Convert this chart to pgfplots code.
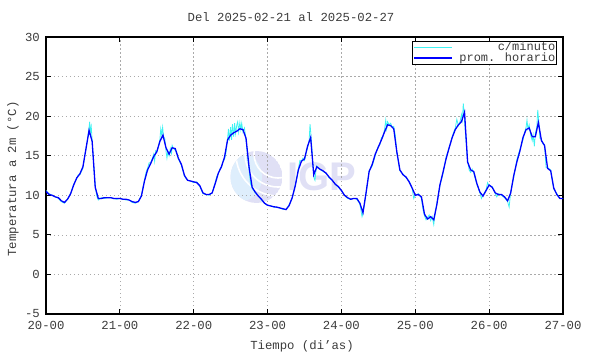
\documentclass[border=0pt]{standalone}
\usepackage{pgfplots}
\pgfplotsset{compat=1.18}
\usepackage{fontspec}
\setmainfont{Liberation Mono}
\setsansfont{Liberation Sans}
\definecolor{cmin}{rgb}{0.25,0.95,0.95}
\definecolor{phor}{rgb}{0,0,1}
\definecolor{lav}{RGB}{224,224,245}
\definecolor{lblue}{RGB}{222,238,252}
\definecolor{gridg}{RGB}{170,170,170}
\definecolor{txt}{RGB}{60,60,60}
\begin{document}
\begin{tikzpicture}
\path[use as bounding box] (-46pt,-40pt) rectangle (544pt,314pt);
% watermark
\begin{scope}
\clip (210.5pt,137pt) circle (26pt);
\fill[lav] (210.5pt,137pt) circle (26pt);
\fill[lblue] (196pt,137pt) ellipse (20pt and 24pt);
\draw[white, line width=1.6pt] (232pt,160pt) circle (24pt);
\draw[white, line width=1.6pt] (232pt,160pt) circle (33pt);
\draw[white, line width=1.6pt] (232pt,160pt) circle (42pt);
\end{scope}
\node[text=lav, font=\sffamily\bfseries\fontsize{40}{40}\selectfont] at (276pt,137pt) {IGP};
\begin{axis}[
  at={(0pt,0pt)}, anchor=south west,
  scale only axis, width=517pt, height=277pt,
  xmin=0, xmax=168, ymin=-5, ymax=30,
  xtick={0,24,48,72,96,120,144,168},
  xticklabels={20-00,21-00,22-00,23-00,24-00,25-00,26-00,27-00},
  ytick={-5,0,5,10,15,20,25,30},
  tick pos=both, tick align=inside,
  major tick length=5pt,
  tick style={black, line width=0.8pt},
  axis line style={black, line width=1.1pt},
  grid=major,
  major grid style={gridg, dash pattern=on 1.5pt off 2.5pt, line width=0.6pt},
  /pgf/number format/assume math mode=true,
  ticklabel style={font=\fontsize{12.3}{13}\selectfont, text=txt, inner sep=1pt},
  yticklabel style={xshift=-5pt},
  xticklabel style={yshift=-6pt},
  legend style={at={(1,1)}, anchor=north east, xshift=-6pt, yshift=-4pt,
    draw=black, line width=0.6pt, fill=white,
    font=\fontsize{12}{11}\selectfont, text=txt,
    inner xsep=1pt, inner ysep=0.5pt, row sep=0pt, column sep=6pt,
    nodes={inner sep=0.3pt}},
  legend cell align=right,
  legend image code/.code={\draw[#1] (0pt,0pt) -- (38pt,0pt);},
]
\addplot[cmin, line width=0.8pt] coordinates {
(0,10.6)(1,10.2)(2,10.0)(3,9.8)(4,9.6)(5,9.2)(6,9.0)(7,9.5)(8,10.2)(9,11.4)(10,12.1)(10.5,12.6)(11,12.6)(11.5,13.0)(12,13.4)(12.5,14.8)(13,15.9)(13.3,16.6)(13.6,17.4)(14,18.6)(14.2,19.3)(14.4,18.0)(14.7,18.7)(15,16.9)(15.5,13.8)(16,11.2)(16.5,9.9)(17,9.4)(18,9.7)(19,9.6)(20,9.7)(21,9.7)(22,9.6)(23,9.5)(24,9.6)(25,9.5)(26,9.4)(27,9.4)(28,9.1)(29,9.0)(30,9.2)(31,10.0)(32,11.9)(32.5,12.9)(33,13.4)(33.5,14.1)(34,14.1)(34.5,14.6)(35,15.2)(35.3,14.3)(35.6,15.6)(36,15.4)(36.5,16.1)(37,17.0)(37.3,18.4)(37.6,17.6)(37.9,18.6)(38.2,17.4)(38.6,17.2)(39,15.6)(39.3,14.7)(39.6,15.5)(40,15.0)(40.4,15.9)(40.8,15.3)(41,16.3)(41.4,15.9)(42,15.7)(42.5,15.3)(43,14.6)(44,13.8)(45,12.4)(46,11.9)(47,11.8)(48,11.6)(49,11.7)(50,11.1)(51,10.2)(52,10.1)(53,10.0)(54,10.3)(55,11.6)(55.5,12.4)(56,12.7)(56.5,13.3)(57,13.5)(57.5,14.3)(58,14.5)(58.5,15.4)(59,17.2)(59.3,18.4)(59.6,16.9)(60,18.6)(60.3,17.0)(60.6,19.0)(61,17.4)(61.3,19.1)(61.6,17.8)(62,18.9)(62.3,19.3)(62.6,18.0)(63,19.2)(63.3,18.3)(63.6,19.1)(64,18.0)(64.5,18.5)(65,17.0)(65.5,15.0)(66,13.2)(66.5,11.4)(67,10.9)(68,10.3)(69,9.9)(70,9.4)(71,9.0)(72,8.7)(73,8.7)(74,8.5)(75,8.5)(76,8.4)(77,8.2)(78,8.2)(79,8.8)(80,9.6)(81,11.3)(81.5,12.2)(82,13.3)(82.5,14.4)(83,14.3)(83.5,14.7)(84,14.4)(84.5,15.3)(85,16.0)(85.5,16.9)(85.8,19.0)(86.1,17.6)(86.4,16.0)(86.8,13.5)(87.1,12.2)(87.4,11.9)(87.7,13.0)(88,13.7)(89,13.3)(90,13.0)(91,12.8)(92,12.2)(93,11.9)(94,11.4)(95,11.0)(96,10.6)(97,10.0)(98,9.6)(99,9.5)(100,9.6)(101,9.5)(102,8.9)(102.7,7.3)(103,7.7)(104,10.2)(105,13.1)(106,13.7)(107,15.0)(107.5,15.7)(108,16.2)(108.5,16.4)(109,17.3)(109.5,17.4)(110,18.3)(110.4,19.5)(110.7,18.4)(111,19.3)(111.5,18.9)(112,19.1)(112.5,18.6)(113,18.7)(113.5,17.6)(114,15.4)(115,13.1)(116,12.7)(117,12.2)(118,11.8)(119,10.8)(119.5,9.6)(120,10.0)(121,10.2)(122,9.6)(122.5,8.2)(123,7.4)(123.5,6.9)(124,7.2)(124.5,7.5)(125,6.8)(125.5,7.3)(126,6.3)(126.5,7.9)(127,9.0)(128,11.2)(129,12.7)(130,14.8)(131,16.0)(132,17.4)(132.5,18.0)(133,18.5)(133.5,19.6)(134,18.8)(134.5,19.2)(135,20.2)(135.3,19.5)(135.6,21.6)(135.9,20.1)(136.2,18.3)(136.6,16.4)(137,14.4)(137.5,13.2)(138,12.9)(138.5,13.3)(139,12.8)(140,11.4)(141,10.3)(141.5,9.6)(142,10.0)(143,10.7)(143.5,11.6)(144,11.2)(145,11.1)(146,10.2)(146.5,9.8)(147,10.2)(148,10.0)(149,9.7)(150,9.2)(150.5,8.5)(151,10.4)(152,12.3)(153,14.5)(154,15.8)(155,17.0)(155.5,17.9)(156,18.6)(156.3,19.5)(156.6,18.4)(157,18.9)(157.5,17.6)(158,16.9)(158.3,17.6)(158.7,16.2)(159,17.8)(159.5,18.6)(159.8,20.8)(160.1,19.5)(160.5,17.2)(161,17.0)(161.5,16.5)(162,16.4)(162.5,13.5)(163,13.5)(164,13.2)(165,10.8)(166,10.2)(167,9.6)(168,9.6)
};
\addlegendentry{c/minuto}
\addplot[phor, line width=1.3pt] coordinates {
(0,10.5)(1,10.1)(2,10.0)(3,9.8)(4,9.7)(5,9.3)(6,9.1)(7,9.5)(8,10.2)(9,11.3)(10,12.2)(11,12.7)(12,13.6)(13,15.9)(14,18.2)(15,16.8)(16,11.0)(17,9.6)(18,9.6)(19,9.7)(20,9.7)(21,9.7)(22,9.6)(23,9.6)
(24,9.6)(25,9.5)(26,9.5)(27,9.4)(28,9.2)(29,9.1)(30,9.2)(31,9.9)(32,11.8)(33,13.2)(34,14.0)(35,14.9)(36,15.5)(37,16.8)(38,17.6)(39,16.0)(40,15.2)(41,16.0)(42,15.9)(43,14.7)(44,13.9)(45,12.5)(46,11.9)(47,11.8)
(48,11.7)(49,11.6)(50,11.2)(51,10.3)(52,10.1)(53,10.1)(54,10.3)(55,11.5)(56,12.8)(57,13.6)(58,14.8)(59,17.0)(60,17.6)(61,17.9)(62,18.1)(63,18.4)(64,18.3)(65,17.2)(66,13.5)(67,11.0)(68,10.4)(69,9.9)(70,9.5)(71,9.0)
(72,8.75)(73,8.65)(74,8.55)(75,8.5)(76,8.4)(77,8.3)(78,8.2)(79,8.7)(80,9.7)(81,11.2)(82,13.2)(83,14.3)(84,14.6)(85,16.2)(86,17.3)(87,12.6)(88,13.6)(89,13.3)(90,13.1)(91,12.8)(92,12.3)(93,11.9)(94,11.4)(95,11.1)
(96,10.6)(97,10.0)(98,9.7)(99,9.5)(100,9.6)(101,9.6)(102,9.0)(103,7.8)(104,10.3)(105,13.0)(106,13.9)(107,15.2)(108,16.1)(109,17.0)(110,18.0)(111,18.9)(112,18.8)(113,18.4)(114,15.5)(115,13.2)(116,12.6)(117,12.3)(118,11.7)(119,10.9)
(120,10.0)(121,10.1)(122,9.8)(123,7.6)(124,7.0)(125,7.3)(126,6.9)(127,8.8)(128,11.3)(129,12.9)(130,14.6)(131,16.0)(132,17.3)(133,18.3)(134,18.9)(135,19.3)(136,20.5)(137,14.2)(138,13.2)(139,13.0)(140,11.5)(141,10.4)(142,9.9)(143,10.6)
(144,11.3)(145,11.0)(146,10.3)(147,10.1)(148,10.1)(149,9.8)(150,9.3)(151,10.3)(152,12.5)(153,14.2)(154,15.6)(155,17.3)(156,18.3)(157,18.5)(158,17.4)(159,17.4)(160,19.2)(161,16.9)(162,16.3)(163,13.4)(164,13.1)(165,10.9)(166,10.1)(167,9.6)(168,9.6)
};
\addlegendentry{prom. horario}
\end{axis}
\node[text=txt, font=\fontsize{12.3}{13}\selectfont] at (245pt,297pt) {Del 2025-02-21 al 2025-02-27};
\node[text=txt, font=\fontsize{12.3}{13}\selectfont] at (256pt,-32pt) {Tiempo (di'as)};
\node[text=txt, font=\fontsize{12.3}{13}\selectfont, rotate=90] at (-33pt,135pt) {Temperatura a 2m (°C)};
\end{tikzpicture}
\end{document}
